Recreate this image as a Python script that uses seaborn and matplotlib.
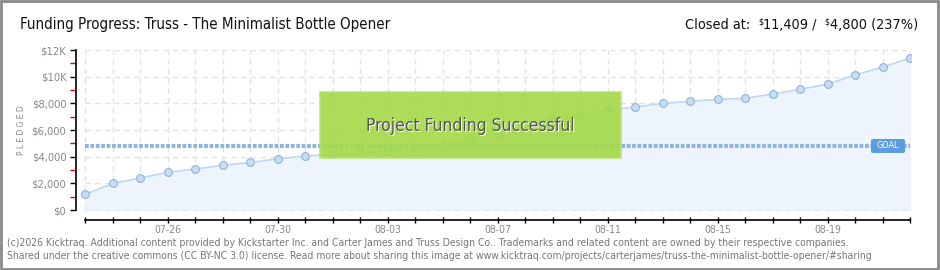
import matplotlib
matplotlib.use("Agg")
import matplotlib.pyplot as plt
import seaborn as sns
import pandas as pd
import numpy as np
from matplotlib.patches import Rectangle, FancyBboxPatch

# ---- data ----
dates = ["07-23", "07-24", "07-25", "07-26", "07-27", "07-28", "07-29", "07-30",
         "07-31", "08-01", "08-02", "08-03", "08-04", "08-05", "08-06", "08-07",
         "08-08", "08-09", "08-10", "08-11", "08-12", "08-13", "08-14", "08-15",
         "08-16", "08-17", "08-18", "08-19", "08-20", "08-21", "08-22"]
pledged = [1180, 2000, 2400, 2825, 3075, 3350, 3575, 3825, 4050, 4175, 4250,
           4425, 4650, 4775, 5400, 5725, 6300, 6850, 7100, 7500, 7725, 8000,
           8150, 8300, 8375, 8700, 9050, 9450, 10125, 10725, 11409]
goal = 4800
ytick_vals = [0, 2000, 4000, 6000, 8000, 10000, 12000]
ytick_labels = ["$0", "$2,000", "$4,000", "$6,000", "$8,000", "$10K", "$12K"]
label_every = 4
label_start = 3

title = "Funding Progress: Truss - The Minimalist Bottle Opener"
footer1 = ("(c)2026 Kicktraq. Additional content provided by Kickstarter Inc. and Carter James "
           "and Truss Design Co.. Trademarks and related content are owned by their respective companies.")
footer2 = ("Shared under the creative commons (CC BY-NC 3.0) license. Read more about sharing this "
           "image at www.kicktraq.com/projects/carterjames/truss-the-minimalist-bottle-opener/#sharing")

sns.set_theme(style="white")
FAM = ["DejaVu Sans"]
plt.rcParams["font.family"] = FAM
plt.rcParams["font.stretch"] = "condensed"

W, H = 940, 270
fig = plt.figure(figsize=(W / 100, H / 100), dpi=100)

def fx(px):
    return px / W

def fy(py):
    return 1 - py / H

# axes box in pixels
L, R, T, B = 76, 911, 50, 220
ax = fig.add_axes([fx(L), fy(B), (R - L) / W, (B - T) / H])
n = len(dates)
x = np.arange(n)
df = pd.DataFrame({"day": x, "pledged": pledged})

ppd = (910.3 - 85.3) / (n - 1)
ax.set_xlim(-(85.3 - L) / ppd, (n - 1) + (R - 910.3) / ppd)
ax.set_ylim(-750, 12000)

grid_kw = dict(color="#e2e2e2", lw=1, linestyles=(0, (4, 3)), zorder=0)
ax.hlines(ytick_vals, 0, n - 1, **grid_kw)
ax.vlines(x, 0, 12000, **grid_kw)

ax.fill_between(x, 0, pledged, color="#edf4fc", zorder=1, lw=0)
sns.lineplot(data=df, x="day", y="pledged", ax=ax, color="#bcd8f4", lw=1.2,
             marker="o", markersize=5.6, markerfacecolor="#c6ddf6",
             markeredgecolor="#92b2d8", markeredgewidth=0.8, zorder=3)

# goal line
ax.hlines(goal, 0, n - 1, color="#8fb4e0", lw=3.0,
          linestyles=(0, (0.9, 0.4)), zorder=2)

# spines
for s in ["top", "right"]:
    ax.spines[s].set_visible(False)
ax.spines["left"].set_bounds(0, 12000)
ax.spines["bottom"].set_bounds(0, n - 1)
for s in ["left", "bottom"]:
    ax.spines[s].set_color("black")
    ax.spines[s].set_linewidth(1.2)

ax.set_xticks(x)
ax.set_xticklabels([d if (i - label_start) % label_every == 0 and i >= label_start else ""
                    for i, d in enumerate(dates)])
ax.tick_params(axis="x", direction="inout", length=5, width=1, color="black",
               labelsize=7.5, labelcolor="#888888", pad=1, bottom=True)
ax.set_yticks(ytick_vals)
ax.set_yticklabels(ytick_labels)
ax.set_yticks([1000, 3000, 5000, 7000, 9000, 11000], minor=True)
ax.tick_params(axis="y", which="major", direction="out", length=4, width=1,
               color="black", labelsize=8, labelcolor="#888888", pad=3, left=True)
ax.tick_params(axis="y", which="minor", direction="out", length=4, width=1,
               color="#e00000", left=True)
ax.set_xlabel("")
ax.set_ylabel("")
ax.grid(False)

# green success box
gx0, gx1 = 320, 621
gy0, gy1 = 92, 158
fig.patches.append(Rectangle((fx(gx0), fy(gy1)), (gx1 - gx0) / W, (gy1 - gy0) / H,
                             transform=fig.transFigure, facecolor="#a5d94a",
                             edgecolor="#b9e46e", lw=1.2, alpha=0.92, zorder=5))
fig.text(fx((gx0 + gx1) / 2) + 0.0012, fy(126) - 0.004, "Project Funding Successful",
         ha="center", va="center", fontsize=12.5, color="white", zorder=6)
fig.text(fx((gx0 + gx1) / 2), fy(126), "Project Funding Successful",
         ha="center", va="center", fontsize=12.5, color="#555555", zorder=7)

# GOAL label
gl_x0, gl_x1, gl_y0, gl_y1 = 871, 905, 139, 153
fig.patches.append(FancyBboxPatch((fx(gl_x0), fy(gl_y1)), (gl_x1 - gl_x0) / W,
                                  (gl_y1 - gl_y0) / H, boxstyle="round,pad=0,rounding_size=0.004",
                                  transform=fig.transFigure, facecolor="#5b9ddf",
                                  edgecolor="none", zorder=5))
fig.text(fx((gl_x0 + gl_x1) / 2), fy((gl_y0 + gl_y1) / 2), "GOAL", ha="center",
         va="center", fontsize=6.5, color="white", zorder=6)

# y label
fig.text(fx(21), fy(130), "P L E D G E D", rotation=90, ha="center", va="center",
         fontsize=6, color="#888888")

# title
fig.text(fx(20), fy(29), title, ha="left", va="baseline", fontsize=10.8, color="#111111")

# right header with superscript $ signs
fig.canvas.draw()
rend = fig.canvas.get_renderer()
pieces = [("Closed at:  ", 10.4, 0), ("$", 6.3, 4), ("11,409 /  ", 10.4, 0), ("$", 6.3, 4),
          ("4,800 (237%)", 10.4, 0)]
widths = []
for s, fs, _ in pieces:
    t = fig.text(0, 0, s, fontsize=fs)
    widths.append(t.get_window_extent(rend).width)
    t.remove()
cur = 918 - sum(widths)
for (s, fs, dy), w in zip(pieces, widths):
    fig.text(fx(cur), fy(29) + dy / H, s, ha="left", va="baseline", fontsize=fs,
             color="#111111")
    cur += w

# footer
fig.text(fx(7), fy(243), footer1, ha="left", va="center", fontsize=7.45, color="#777777")
fig.text(fx(7), fy(256), footer2, ha="left", va="center", fontsize=7.45, color="#777777")

# border
fig.patches.append(Rectangle((0.001, 0.002), 0.997, 0.995, transform=fig.transFigure,
                             facecolor="none", edgecolor="#8a8a8a", lw=2, zorder=10))

fig.savefig("out.png", dpi=100)
